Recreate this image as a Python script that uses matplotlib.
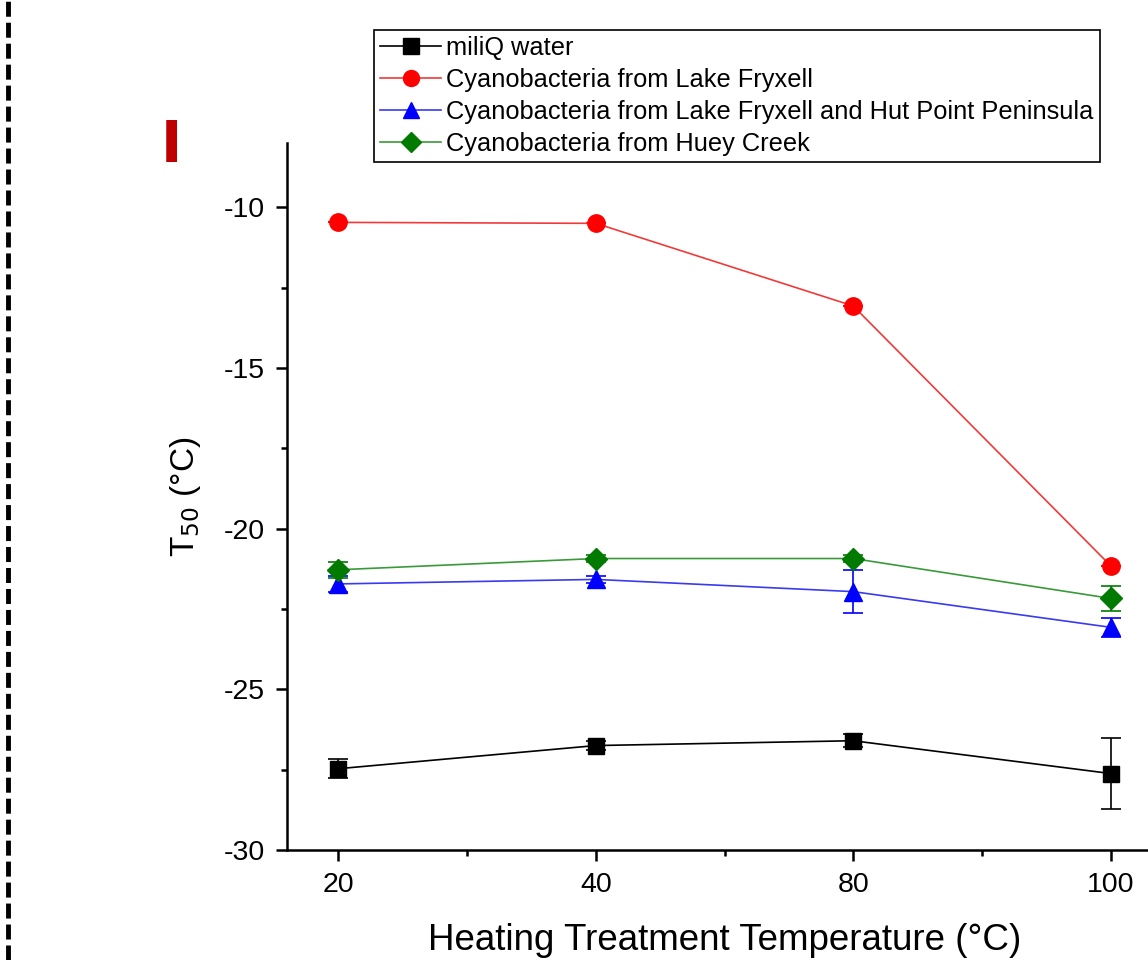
import matplotlib
matplotlib.use("Agg")
import matplotlib.pyplot as plt
from matplotlib.lines import Line2D
from matplotlib.ticker import FixedLocator

plt.rcParams['font.family'] = ['Liberation Sans', 'DejaVu Sans']
plt.rcParams['lines.scale_dashes'] = False

categories = ["20", "40", "80", "100"]
series_names = ["miliQ water",
                "Cyanobacteria from Lake Fryxell",
                "Cyanobacteria from Lake Fryxell and Hut Point Peninsula",
                "Cyanobacteria from Huey Creek"]
miliq = [-27.47, -26.75, -26.6, -27.62]
miliq_err = [0.3, 0.15, 0.2, 1.1]
fryxell = [-10.47, -10.5, -13.07, -21.15]
fryxell_err = [0.0, 0.0, 0.0, 0.0]
fryxell_hut = [-21.72, -21.58, -21.96, -23.07]
fryxell_hut_err = [0.25, 0.1, 0.68, 0.3]
huey = [-21.28, -20.93, -20.93, -22.17]
huey_err = [0.25, 0.1, 0.1, 0.4]

W, H = 1148, 960
fig = plt.figure(figsize=(W / 100, H / 100), dpi=100)
ax = fig.add_axes([287 / W, 110 / H, (1162 - 287) / W, (850 - 143) / H])

x = list(range(len(categories)))
styles = [
    (miliq, miliq_err, "black", "black", "s", 12),
    (fryxell, fryxell_err, "#f03a3a", "#ff0000", "o", 12.5),
    (fryxell_hut, fryxell_hut_err, "#3a3af0", "#0000ff", "^", 13),
    (huey, huey_err, "#3a9a3a", "#007a00", "D", 11),
]
for (vals, err, lc, mc, mk, ms), name in zip(styles, series_names):
    ax.errorbar(x, vals, yerr=err, color=lc, lw=1.2, marker=mk, ms=ms,
                mfc=mc, mec=mc, ecolor=mc, elinewidth=1.2, capsize=7,
                capthick=1.2, label=name)

ax.set_xlim(-0.2, 3.2)
ax.set_ylim(-30, -8)
ax.set_xticks(x)
ax.set_xticklabels(categories)
ax.xaxis.set_minor_locator(FixedLocator([0.5, 1.5, 2.5]))
ax.set_yticks([-30, -25, -20, -15, -10])
ax.set_yticklabels(["-30", "-25", "-20", "-15", "-10"])
ax.yaxis.set_minor_locator(FixedLocator([-27.5, -22.5, -17.5, -12.5]))
for s in ["top", "right"]:
    ax.spines[s].set_visible(False)
for s in ["left", "bottom"]:
    ax.spines[s].set_linewidth(1.8)
ax.tick_params(axis="both", which="major", direction="out", length=8,
               width=1.8, labelsize=20.5, pad=8)
ax.tick_params(axis="both", which="minor", direction="out", length=4,
               width=1.8)
ax.set_xlabel("Heating Treatment Temperature (°C)", fontsize=26.5, labelpad=18)
ax.set_ylabel("T$_{50}$ (°C)", fontsize=24, labelpad=15)

handles = [Line2D([], [], color=st[2], lw=1.2, marker=st[4], ms=st[5] - 1,
                  mfc=st[3], mec=st[3]) for st in styles]
leg = fig.legend(handles, series_names, loc="upper left",
                 bbox_to_anchor=(374 / W, 1 - 30 / H), fontsize=18.3,
                 frameon=True, fancybox=False, edgecolor="black",
                 framealpha=1, handlelength=2.4, handletextpad=0.2,
                 borderpad=0.25, labelspacing=0.31, borderaxespad=0)
leg.get_frame().set_linewidth(1.2)

fig.text(161 / W, 1 - 162 / H, "I", color="#c00000", fontsize=41,
         fontweight="bold", family="DejaVu Sans", ha="left", va="baseline")

fig.add_artist(Line2D([8 / W, 8 / W], [0, 1], color="black", lw=3.5,
                      dashes=(10.8, 4.3)))

fig.savefig("out.png", dpi=100)
